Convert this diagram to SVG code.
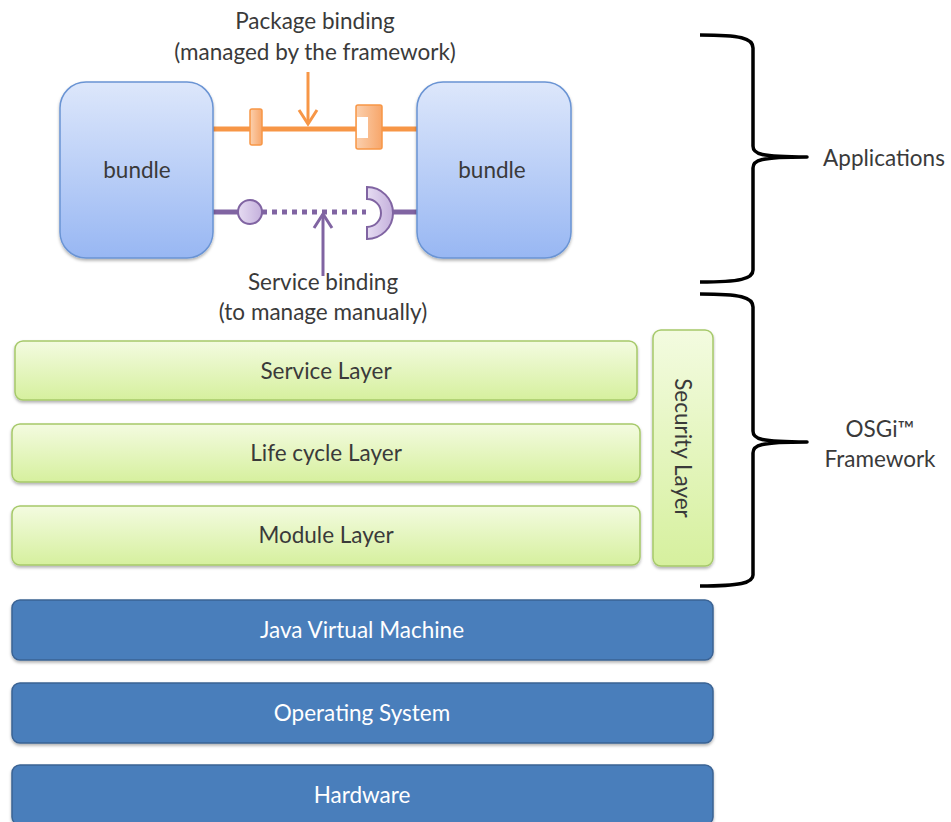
<svg xmlns="http://www.w3.org/2000/svg" width="951" height="822" viewBox="0 0 951 822">
<style>
  text { font-family: Lato, "Open Sans", "Liberation Sans", sans-serif; fill: #3a3a3a; }
  .lbl { font-size: 22.5px; text-anchor: middle; }
  .white { fill: #ffffff; }
  .bundle { fill: url(#gBundle); stroke: #6a94d4; stroke-width: 1.5; filter: url(#sh); }
  .green { fill: url(#gGreen); stroke: #a6c96a; stroke-width: 1.5; filter: url(#sh); }
  .blue { fill: #4a7ebb; stroke: #3a6394; stroke-width: 1.5; filter: url(#sh); }
  .brace { fill: none; stroke: #000; stroke-width: 3.5; stroke-linejoin: round; }
  .org { stroke: #f79646; stroke-width: 5; fill: none; }
  .pur { stroke: #8064a2; stroke-width: 5; fill: none; }
</style>
<defs>
  <linearGradient id="gBundle" x1="0" y1="0" x2="0" y2="1">
    <stop offset="0" stop-color="#dde7fb"/>
    <stop offset="1" stop-color="#98b7f3"/>
  </linearGradient>
  <linearGradient id="gGreen" x1="0" y1="0" x2="0" y2="1">
    <stop offset="0" stop-color="#f3fbe0"/>
    <stop offset="1" stop-color="#d6f09e"/>
  </linearGradient>
  <linearGradient id="gOrg" x1="0" y1="0" x2="1" y2="0">
    <stop offset="0" stop-color="#fbd0ae"/>
    <stop offset="1" stop-color="#f7a66a"/>
  </linearGradient>
  <linearGradient id="gPur" x1="0" y1="0" x2="1" y2="0">
    <stop offset="0" stop-color="#e6dcf2"/>
    <stop offset="1" stop-color="#c4b0dc"/>
  </linearGradient>
  <filter id="sh" x="-5%" y="-10%" width="110%" height="130%">
    <feDropShadow dx="0" dy="2" stdDeviation="1.5" flood-color="#000" flood-opacity="0.3"/>
  </filter>
</defs>

<g id="connectors">
  <!-- package binding -->
  <line class="org" x1="213" y1="129" x2="418" y2="129"/>
  <rect x="250" y="109" width="12" height="36" rx="2" fill="url(#gOrg)" stroke="#f79646" stroke-width="1.5"/>
  <rect x="356" y="105" width="26" height="44" rx="2" fill="url(#gOrg)" stroke="#f79646" stroke-width="1.5"/>
  <rect x="357" y="117" width="11" height="21" fill="#ffffff"/>
  <line x1="308" y1="72" x2="308" y2="124" stroke="#f79646" stroke-width="3"/>
  <polyline points="299,110 308,124 317,110" fill="none" stroke="#f79646" stroke-width="3"/>
  <!-- service binding -->
  <line class="pur" x1="213" y1="212" x2="238" y2="212"/>
  <line class="pur" x1="262" y1="212" x2="366" y2="212" stroke-dasharray="5,5"/>
  <line class="pur" x1="390" y1="212" x2="418" y2="212"/>
  <circle cx="250" cy="212" r="12" fill="url(#gPur)" stroke="#8064a2" stroke-width="2"/>
  <path d="M367,187 A26,26 0 0 1 367,239 L367,227 A14,14 0 0 0 367,199 Z" fill="url(#gPur)" stroke="#8064a2" stroke-width="2"/>
  <line x1="323" y1="276" x2="323" y2="214" stroke="#8064a2" stroke-width="3"/>
  <polyline points="314,228 323,214 332,228" fill="none" stroke="#8064a2" stroke-width="3"/>
</g>

<g id="bundle-left">
  <rect class="bundle" x="60" y="82" width="153" height="176" rx="26"/>
  <text class="lbl" x="137" y="178">bundle</text>
</g>
<g id="bundle-right">
  <rect class="bundle" x="417" y="82" width="154" height="176" rx="26"/>
  <text class="lbl" x="492" y="178">bundle</text>
</g>

<g id="label-package">
  <text class="lbl" x="315" y="29">Package binding</text>
  <text class="lbl" x="315" y="60">(managed by the framework)</text>
</g>
<g id="label-service">
  <text class="lbl" x="323" y="290">Service binding</text>
  <text class="lbl" x="323" y="320">(to manage manually)</text>
</g>

<g id="service-layer">
  <rect class="green" x="15" y="341" width="622" height="59" rx="8"/>
  <text class="lbl" x="326" y="379">Service Layer</text>
</g>
<g id="lifecycle-layer">
  <rect class="green" x="12" y="424" width="628" height="58" rx="8"/>
  <text class="lbl" x="326" y="461">Life cycle Layer</text>
</g>
<g id="module-layer">
  <rect class="green" x="12" y="506" width="628" height="59" rx="8"/>
  <text class="lbl" x="326" y="543">Module Layer</text>
</g>
<g id="security-layer">
  <rect class="green" x="653" y="330" width="60" height="236" rx="8"/>
  <text class="lbl" transform="translate(675,448) rotate(90)">Security Layer</text>
</g>

<g id="jvm">
  <rect class="blue" x="12" y="600" width="701" height="60" rx="8"/>
  <text class="lbl white" x="362" y="638">Java Virtual Machine</text>
</g>
<g id="os">
  <rect class="blue" x="12" y="683" width="701" height="60" rx="8"/>
  <text class="lbl white" x="362" y="721">Operating System</text>
</g>
<g id="hardware">
  <rect class="blue" x="12" y="765" width="701" height="60" rx="8"/>
  <text class="lbl white" x="362" y="803">Hardware</text>
</g>

<g id="brace-applications">
  <path class="brace" d="M700,35 C740,35 753,38 753,48 L753,146 C753,154 760,157 807,157 C760,157 753,160 753,168 L753,270 C753,279 740,282 700,282"/>
  <text class="lbl" x="884" y="166">Applications</text>
</g>
<g id="brace-osgi">
  <path class="brace" d="M700,294 C740,294 753,297 753,307 L753,431 C753,439 760,442 807,442 C760,442 753,445 753,453 L753,575 C753,583 740,586 700,586"/>
  <text class="lbl" x="880" y="437">OSGi™</text>
  <text class="lbl" x="880" y="467">Framework</text>
</g>
</svg>
